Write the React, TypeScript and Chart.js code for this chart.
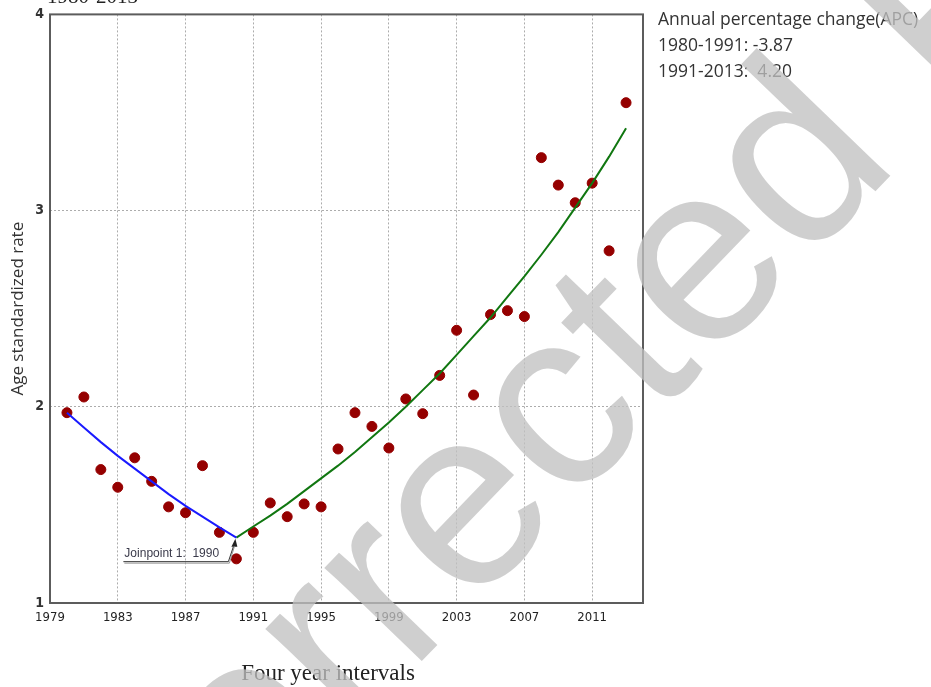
import React, { useEffect, useRef } from "react";
import { Chart, registerables } from "chart.js";

Chart.register(...registerables);

// ---- data ----
const YEARS = [
  1980, 1981, 1982, 1983, 1984, 1985, 1986, 1987, 1988, 1989, 1990, 1991,
  1992, 1993, 1994, 1995, 1996, 1997, 1998, 1999, 2000, 2001, 2002, 2003,
  2004, 2005, 2006, 2007, 2008, 2009, 2010, 2011, 2012, 2013,
];
const RATES = [
  1.97, 2.05, 1.68, 1.59, 1.74, 1.62, 1.49, 1.46, 1.70, 1.36, 1.225, 1.36,
  1.51, 1.44, 1.505, 1.49, 1.785, 1.97, 1.90, 1.79, 2.04, 1.965, 2.16, 2.39,
  2.06, 2.47, 2.49, 2.46, 3.27, 3.13, 3.04, 3.14, 2.795, 3.55,
];
const SEG1_YEARS = [1980, 1981, 1982, 1983, 1984, 1985, 1986, 1987, 1988, 1989, 1990];
const SEG1_FIT = [1.97, 1.895, 1.82, 1.75, 1.685, 1.62, 1.555, 1.495, 1.44, 1.385, 1.333];
const SEG2_YEARS = [
  1990, 1991, 1992, 1993, 1994, 1995, 1996, 1997, 1998, 1999, 2000, 2001,
  2002, 2003, 2004, 2005, 2006, 2007, 2008, 2009, 2010, 2011, 2012, 2013,
];
const SEG2_FIT = [
  1.333, 1.39, 1.445, 1.505, 1.57, 1.635, 1.70, 1.77, 1.845, 1.92, 2.00, 2.085,
  2.17, 2.265, 2.36, 2.455, 2.56, 2.665, 2.775, 2.89, 3.015, 3.14, 3.275, 3.42,
];
const X_TICKS = [1979, 1983, 1987, 1991, 1995, 1999, 2003, 2007, 2011];
const Y_TICKS = [1, 2, 3, 4];
const X_MIN = 1979;
const X_MAX = 2014;
const Y_MIN = 1;
const Y_MAX = 4;
const JOINPOINT_YEAR = 1990;
const JOINPOINT_VALUE = 1.333;

// ---- text ----
const TITLE = "1980-2013";
const Y_TITLE = "Age standardized rate";
const X_TITLE = "Four year intervals";
const APC_LINES = ["Annual percentage change(APC)", "1980-1991: -3.87", "1991-2013:  4.20"];
const JOINPOINT_LABEL = "Joinpoint 1:  1990";
const WATERMARK = "Uncorrected Proof";

const NARROW = "'Liberation Sans Narrow', 'DejaVu Sans Condensed', 'Liberation Sans', sans-serif";
const SANS = "'Open Sans', 'Liberation Sans', sans-serif";
const SERIF = "'Liberation Serif', 'DejaVu Serif', serif";

const decor = {
  id: "decor",
  beforeDraw(chart: any) {
    const ctx = chart.ctx;
    ctx.save();
    ctx.fillStyle = "#ffffff";
    ctx.fillRect(0, 0, chart.width, chart.height);
    ctx.restore();
  },
  afterDatasetsDraw(chart: any) {
    const ctx = chart.ctx;
    const a = chart.chartArea;
    const xs = chart.scales.x;
    const ys = chart.scales.y;
    ctx.save();
    // plot frame
    ctx.strokeStyle = "#5c5c5c";
    ctx.lineWidth = 2;
    ctx.strokeRect(a.left, a.top, a.right - a.left, a.bottom - a.top);

    // joinpoint annotation
    const jx = xs.getPixelForValue(JOINPOINT_YEAR);
    const jy = ys.getPixelForValue(JOINPOINT_VALUE);
    ctx.fillStyle = "#222";
    ctx.beginPath();
    ctx.moveTo(jx - 1, jy + 1);
    ctx.lineTo(jx - 5, jy + 9);
    ctx.lineTo(jx + 1, jy + 9);
    ctx.closePath();
    ctx.fill();
    ctx.strokeStyle = "#9a9a9a";
    ctx.lineWidth = 1;
    ctx.beginPath();
    ctx.moveTo(jx - 112, jy + 25.5);
    ctx.lineTo(jx - 7, jy + 25.5);
    ctx.lineTo(jx - 2, jy + 9);
    ctx.stroke();
    ctx.strokeStyle = "#333";
    ctx.beginPath();
    ctx.moveTo(jx - 113, jy + 24);
    ctx.lineTo(jx - 8, jy + 24);
    ctx.lineTo(jx - 3, jy + 9);
    ctx.stroke();
    ctx.font = "12px 'Liberation Sans', sans-serif";
    ctx.fillStyle = "#3a3a4a";
    ctx.textAlign = "left";
    ctx.textBaseline = "alphabetic";
    ctx.fillText(JOINPOINT_LABEL, jx - 112, jy + 19);
    ctx.restore();
  },
  afterDraw(chart: any) {
    const ctx = chart.ctx;
    const a = chart.chartArea;
    ctx.save();
    // cut-off title
    ctx.font = "21px " + SERIF;
    ctx.fillStyle = "#222";
    ctx.textAlign = "left";
    ctx.textBaseline = "alphabetic";
    ctx.fillText(TITLE, a.left - 3, 3);

    // x axis title
    ctx.font = "23px " + SERIF;
    ctx.fillStyle = "#222";
    ctx.textAlign = "center";
    ctx.textBaseline = "middle";
    ctx.fillText(X_TITLE, 328, 674);

    // APC text
    ctx.font = "17.5px " + SANS;
    ctx.fillStyle = "#333";
    ctx.textAlign = "left";
    APC_LINES.forEach((t, i) => ctx.fillText(t, a.right + 15, 20 + i * 26));

    // watermark
    ctx.translate(-63, 1163);
    ctx.rotate((-46 * Math.PI) / 180);
    ctx.font = "255px 'Liberation Sans', sans-serif";
    ctx.fillStyle = "rgba(193,193,193,0.77)";
    ctx.textAlign = "left";
    ctx.textBaseline = "alphabetic";
    ctx.fillText(WATERMARK, 0, 0);
    ctx.restore();
  },
};

const gridColor = (edgeValues: number[]) => (c: any) =>
  c.tick && edgeValues.includes(c.tick.value) ? "rgba(0,0,0,0)" : "#acacac";

export default function App() {
  const ref = useRef<HTMLCanvasElement>(null);
  useEffect(() => {
    const canvas = ref.current;
    if (!canvas) return;
    const chart = new Chart(canvas, {
      type: "scatter",
      data: {
        datasets: [
          {
            type: "line",
            label: "1980-1991",
            data: SEG1_YEARS.map((x, i) => ({ x, y: SEG1_FIT[i] })),
            borderColor: "#1a1aff",
            borderWidth: 2,
            pointRadius: 0,
            fill: false,
            tension: 0,
            order: 0,
          },
          {
            type: "line",
            label: "1991-2013",
            data: SEG2_YEARS.map((x, i) => ({ x, y: SEG2_FIT[i] })),
            borderColor: "#117711",
            borderWidth: 2,
            pointRadius: 0,
            fill: false,
            tension: 0,
            order: 0,
          },
          {
            type: "scatter",
            label: "Observed",
            data: YEARS.map((x, i) => ({ x, y: RATES[i] })),
            backgroundColor: "#950000",
            borderColor: "#950000",
            pointRadius: 5,
            order: 1,
          },
        ],
      } as any,
      options: {
        responsive: false,
        maintainAspectRatio: false,
        animation: false,
        layout: { padding: { top: 10, right: 288, left: 0, bottom: 0 } },
        plugins: { legend: { display: false }, tooltip: { enabled: false } },
        scales: {
          x: {
            type: "linear",
            min: X_MIN,
            max: X_MAX,
            afterBuildTicks: (s: any) => {
              s.ticks = X_TICKS.map((v) => ({ value: v }));
            },
            afterFit: (s: any) => {
              s.height = 84;
            },
            border: { display: false, dash: [2, 2] } as any,
            grid: {
              color: gridColor([X_MIN]),
              lineWidth: 1,
              drawTicks: false,
            },
            ticks: {
              autoSkip: false,
              maxRotation: 0,
              padding: 7,
              color: "#222",
              font: { family: NARROW, size: 13 },
              callback: (v: any) => String(v),
            },
          },
          y: {
            type: "linear",
            min: Y_MIN,
            max: Y_MAX,
            afterBuildTicks: (s: any) => {
              s.ticks = Y_TICKS.map((v) => ({ value: v }));
            },
            afterFit: (s: any) => {
              s.width = 50;
            },
            border: { display: false, dash: [2, 2] } as any,
            grid: {
              color: gridColor([Y_MIN, Y_MAX]),
              lineWidth: 1,
              drawTicks: false,
            },
            ticks: {
              padding: 6,
              color: "#333",
              font: { family: NARROW, size: 14, weight: "bold" },
              callback: (v: any) => String(v),
            },
            title: {
              display: true,
              text: Y_TITLE,
              color: "#333",
              font: { family: SANS, size: 17 },
              padding: { top: 8, bottom: 0 },
            },
          },
        },
      } as any,
      plugins: [decor],
    });
    return () => chart.destroy();
  }, []);
  return (
    <div style={{ position: "fixed", left: 0, top: 0, width: 931, height: 687, background: "#fff" }}>
      <canvas ref={ref} width={931} height={687} style={{ display: "block", width: 931, height: 687 }} />
    </div>
  );
}
